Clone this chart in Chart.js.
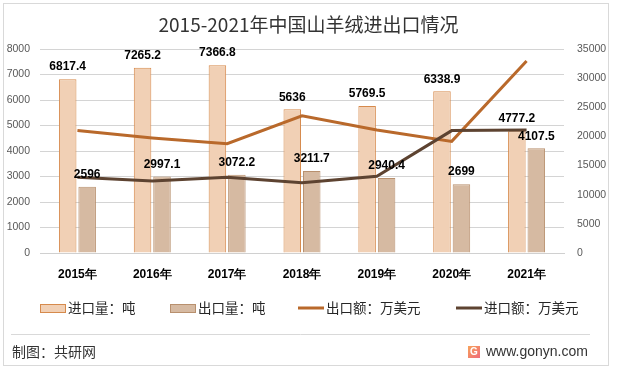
<!DOCTYPE html>
<html>
<head>
<meta charset="utf-8">
<script src="https://cdn.jsdelivr.net/npm/chart.js@4.4.1/dist/chart.umd.min.js"></script>
<style>
  html, body { margin: 0; padding: 0; background: #fff; }
  #wrap { position: relative; width: 617px; height: 372px; }
</style>
</head>
<body>
<div id="wrap"><canvas id="chart" width="617" height="372"></canvas></div>
<script>
const years = ['2015年', '2016年', '2017年', '2018年', '2019年', '2020年', '2021年'];
const importQty = [6817.4, 7265.2, 7366.8, 5636, 5769.5, 6338.9, 4777.2];
const exportQty = [2596, 2997.1, 3072.2, 3211.7, 2940.4, 2699, 4107.5];
const exportValue = [21000, 19750, 18750, 23550, 21100, 19150, 32950];
const importValue = [13000, 12350, 13000, 12050, 13150, 21000, 21100];
const leftTicks = [0, 1000, 2000, 3000, 4000, 5000, 6000, 7000, 8000];
const rightTicks = [0, 5000, 10000, 15000, 20000, 25000, 30000, 35000];

const cjk = '"Noto Sans CJK SC", sans-serif';
const latin = '"Liberation Sans", Arial, sans-serif';

// value labels over the bars
const barLabels = {
    id: 'barLabels',
    afterDatasetsDraw(chart) {
        let ctx = chart.ctx;
        ctx.save();
        ctx.font = 'bold 12px ' + latin;
        ctx.fillStyle = '#000';
        ctx.textAlign = 'center';
        ctx.textBaseline = 'middle';
        [0, 1].forEach(i => {
            let meta = chart.getDatasetMeta(i);
            meta.data.forEach((bar, j) => {
                ctx.fillText(String(chart.data.datasets[i].data[j]), bar.x, bar.y - 12);
            });
        });
        ctx.restore();
    }
};

// legend row, laid out like the original
const legendRow = {
    id: 'legendRow',
    afterDraw(chart) {
        let ctx = chart.ctx;
        let slots = [40, 170, 298, 456];
        let y = 308;
        ctx.save();
        ctx.font = '13.5px ' + cjk;
        ctx.textBaseline = 'middle';
        chart.data.datasets.forEach((ds, i) => {
            let x = slots[i];
            if (ds.type === 'bar') {
                ctx.fillStyle = ds.backgroundColor;
                ctx.fillRect(x, y - 4, 25, 8);
                ctx.strokeStyle = ds.borderColor;
                ctx.lineWidth = 1;
                ctx.strokeRect(x + 0.5, y - 3.5, 25, 8);
            } else {
                ctx.strokeStyle = ds.borderColor;
                ctx.lineWidth = 3;
                ctx.beginPath();
                ctx.moveTo(x, y);
                ctx.lineTo(x + 26, y);
                ctx.stroke();
            }
            ctx.fillStyle = '#262626';
            ctx.fillText(ds.label, x + 28, y);
        });
        ctx.restore();
    }
};

// frame, separator and source line
const frame = {
    id: 'frame',
    afterDraw(chart) {
        let ctx = chart.ctx;
        ctx.save();
        ctx.strokeStyle = '#d9d9d9';
        ctx.lineWidth = 1;
        ctx.strokeRect(3.5, 3.5, 605, 362);
        ctx.beginPath();
        ctx.moveTo(11, 334.5);
        ctx.lineTo(590, 334.5);
        ctx.stroke();

        ctx.fillStyle = '#333';
        ctx.textBaseline = 'middle';
        ctx.font = '14px ' + cjk;
        ctx.fillText('制图：共研网', 12, 352);

        let g = ctx.createLinearGradient(468, 346, 480, 358);
        g.addColorStop(0, '#f7a35a');
        g.addColorStop(1, '#f06a7a');
        ctx.fillStyle = g;
        ctx.fillRect(468, 346, 12, 12);
        ctx.fillStyle = '#fff';
        ctx.font = 'bold 10px ' + latin;
        ctx.textAlign = 'center';
        ctx.fillText('G', 474, 352.5);

        ctx.textAlign = 'left';
        ctx.fillStyle = '#333';
        ctx.font = '14px ' + latin;
        ctx.fillText('www.gonyn.com', 486, 352);
        ctx.restore();
    }
};

new Chart(document.getElementById('chart'), {
    data: {
        labels: years,
        datasets: [
            {
                type: 'bar',
                label: '进口量：吨',
                data: importQty,
                yAxisID: 'y',
                backgroundColor: '#f1d0b5',
                borderColor: '#d68a4c',
                borderWidth: 1,
                categoryPercentage: 0.52,
                barPercentage: 0.9,
                order: 2
            },
            {
                type: 'bar',
                label: '出口量：吨',
                data: exportQty,
                yAxisID: 'y',
                backgroundColor: '#d6baa2',
                borderColor: '#b8906e',
                borderWidth: 1,
                categoryPercentage: 0.52,
                barPercentage: 0.9,
                order: 2
            },
            {
                type: 'line',
                label: '出口额：万美元',
                data: exportValue,
                yAxisID: 'y1',
                borderColor: '#b9692b',
                backgroundColor: '#b9692b',
                borderWidth: 3,
                pointRadius: 0,
                tension: 0,
                order: 1
            },
            {
                type: 'line',
                label: '进口额：万美元',
                data: importValue,
                yAxisID: 'y1',
                borderColor: '#5d4331',
                backgroundColor: '#5d4331',
                borderWidth: 3,
                pointRadius: 0,
                tension: 0,
                order: 0
            }
        ]
    },
    options: {
        responsive: false,
        animation: false,
        events: [],
        layout: { padding: { left: 0, right: 0, top: 0, bottom: 79 } },
        plugins: {
            title: {
                display: true,
                text: '2015-2021年中国山羊绒进出口情况',
                color: '#333',
                font: { family: cjk, size: 19, weight: 'normal' },
                padding: { top: 13, bottom: 13.2 }
            },
            legend: { display: false },
            tooltip: { enabled: false }
        },
        scales: {
            x: {
                grid: { display: false, drawTicks: false },
                border: { color: '#d0d0d0' },
                ticks: {
                    padding: 14,
                    color: '#000',
                    font: { family: latin, size: 12, weight: 'bold' }
                },
                afterFit(scale) { scale.height = 40; }
            },
            y: {
                position: 'left',
                min: 0,
                max: 8000,
                border: { display: false },
                grid: { color: '#d4d4d4', lineWidth: 1, drawTicks: false },
                afterBuildTicks(scale) { scale.ticks = leftTicks.map(v => ({ value: v })); },
                ticks: {
                    padding: 10,
                    color: '#595959',
                    font: { family: latin, size: 10.5 },
                    callback: v => String(v)
                },
                afterFit(scale) { scale.width = 40; }
            },
            y1: {
                position: 'right',
                min: 0,
                max: 35000,
                border: { display: false },
                grid: { display: false, drawTicks: false },
                afterBuildTicks(scale) { scale.ticks = rightTicks.map(v => ({ value: v })); },
                ticks: {
                    padding: 13,
                    color: '#595959',
                    font: { family: latin, size: 10.5 },
                    callback: v => String(v)
                },
                afterFit(scale) { scale.width = 53; }
            }
        }
    },
    plugins: [barLabels, legendRow, frame]
});
</script>
</body>
</html>
